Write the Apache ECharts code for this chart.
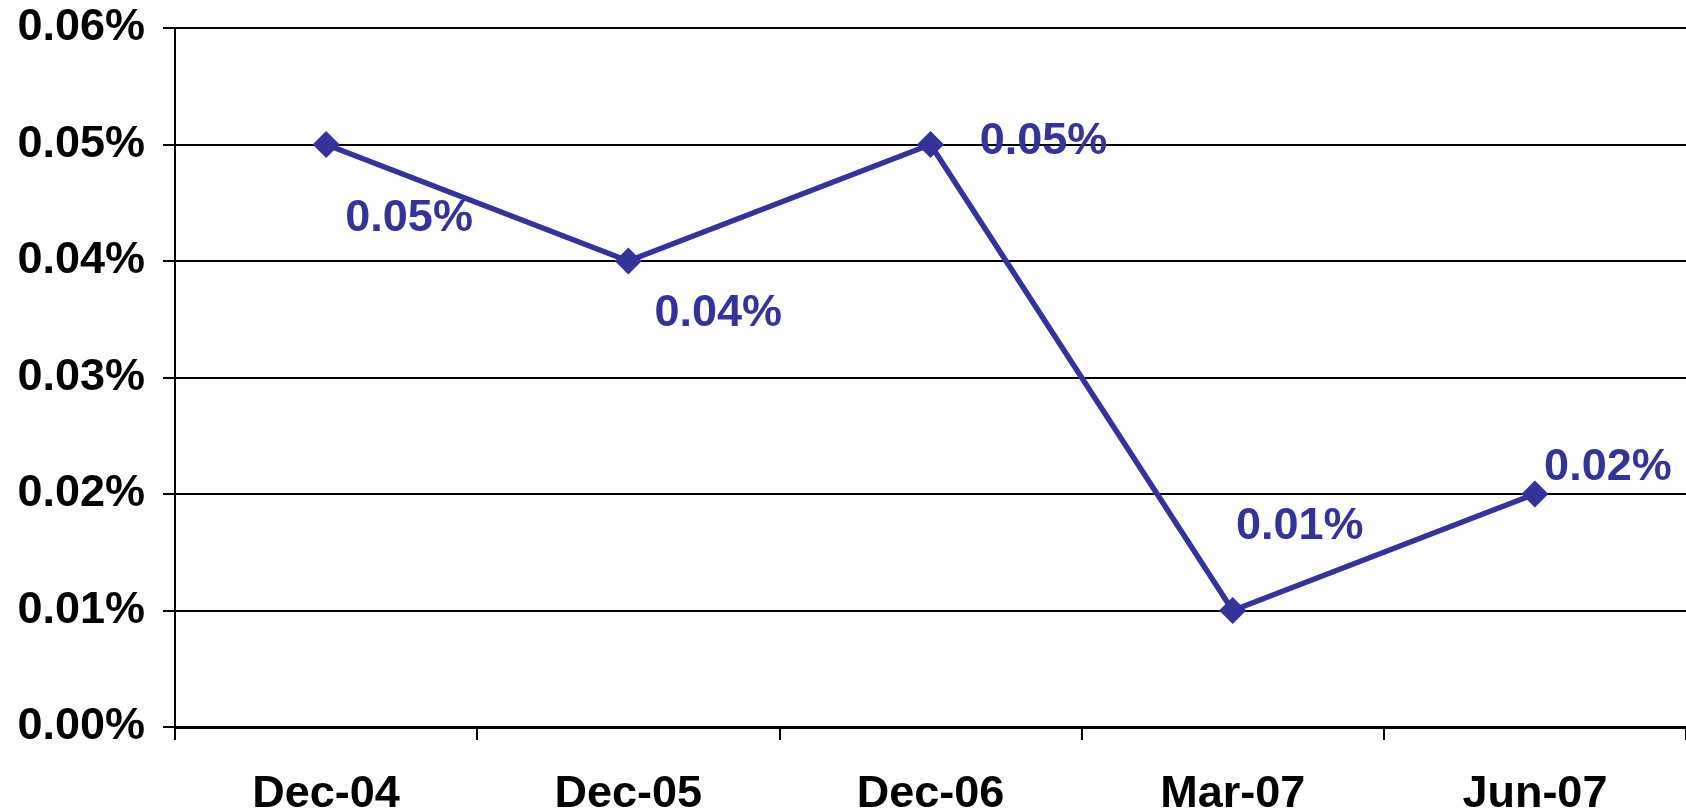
<!DOCTYPE html>
<html>
<head>
    <meta charset="utf-8">
    <title>ECharts</title>
    <script src="https://cdn.jsdelivr.net/npm/echarts@6/dist/echarts.min.js"></script>
    <style>
        html, body { margin: 0; padding: 0; background: #fff; }
    </style>
</head>
<body>
    <div id="main" style="width: 1686px;height:812px;"></div>
    <script type="text/javascript">
        // data (values in %)
        var categories = ['Dec-04', 'Dec-05', 'Dec-06', 'Mar-07', 'Jun-07'];
        var values = [0.05, 0.04, 0.05, 0.01, 0.02];
        var yTicks = [0, 0.01, 0.02, 0.03, 0.04, 0.05, 0.06];

        // where each value label sits, relative to its point
        var labelOffsets = [[83, 74], [90, 53], [113, -3], [67, -84], [73, -26]];

        var font = '"Liberation Sans", Arial, sans-serif';
        var blue = '#333399';

        var myChart = echarts.init(document.getElementById('main'));

        var seriesData = values.map(function (v, i) {
            return {
                value: v,
                label: { offset: labelOffsets[i] }
            };
        });

        var option = {
            animation: false,
            grid: { left: 175, right: 0, top: 28, bottom: 85, outerBoundsMode: 'none', containLabel: false },
            xAxis: {
                type: 'category',
                data: categories,
                boundaryGap: true,
                axisLine: { lineStyle: { color: '#000', width: 3 } },
                axisTick: { show: true, length: 13, lineStyle: { color: '#000', width: 2 } },
                axisLabel: {
                    color: '#000', fontFamily: font, fontWeight: 'bold', fontSize: 45,
                    margin: 45
                },
                splitLine: { show: false }
            },
            yAxis: {
                type: 'value',
                min: yTicks[0],
                max: yTicks[yTicks.length - 1],
                interval: 0.01,
                axisLine: { show: true, lineStyle: { color: '#000', width: 2 } },
                axisTick: { show: true, inside: false, length: 12, lineStyle: { color: '#000', width: 2 } },
                axisLabel: {
                    color: '#000', fontFamily: font, fontWeight: 'bold', fontSize: 45,
                    margin: 30,
                    formatter: function (v) { return v.toFixed(2) + '%'; }
                },
                splitLine: { show: true, lineStyle: { color: '#000', width: 2 } }
            },
            series: [{
                type: 'line',
                data: seriesData,
                symbol: 'diamond',
                symbolSize: 27,
                itemStyle: { color: blue },
                lineStyle: { color: blue, width: 5.5 },
                label: {
                    show: true,
                    position: 'inside',
                    color: blue,
                    fontFamily: font,
                    fontWeight: 'bold',
                    fontSize: 45,
                    formatter: function (p) { return p.value.toFixed(2) + '%'; }
                }
            }]
        };
        myChart.setOption(option);
    </script>
</body>
</html>
